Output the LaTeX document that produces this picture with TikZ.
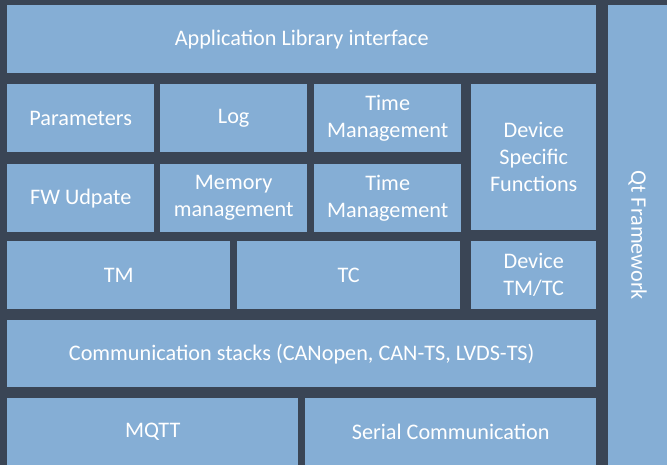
\documentclass[tikz,border=0pt]{standalone}
\usepackage{fontspec}
\setmainfont{Carlito}
\usetikzlibrary{positioning}
\definecolor{slatebg}{HTML}{3A4555}
\definecolor{layerblue}{HTML}{85AED5}

\tikzset{
  layer/.style={fill=layerblue, text=white, align=center, anchor=north west,
    inner sep=0pt, font=\fontsize{22.3}{27}\selectfont},
}

\begin{document}
\begin{tikzpicture}[x=1bp,y=-1bp]
  % background
  \fill[slatebg] (0,0) rectangle (667,465);
  \useasboundingbox (0,0) rectangle (667,465);

  % top layer
  \node[layer, minimum width=589bp, minimum height=68bp] (app) at (7,5) {Application Library interface};

  % services
  \node[layer, minimum width=147bp, minimum height=68bp] (params) at (7,84) {Parameters};
  \node[layer, minimum width=147bp, minimum height=68bp] (log) at (160,84) {Log};
  \node[layer, minimum width=147bp, minimum height=68bp] (timeA) at (314,84) {Time\\Management};
  \node[layer, minimum width=125bp, minimum height=146bp] (devfunc) at (471,84) {Device\\Specific\\Functions};
  \node[layer, minimum width=147bp, minimum height=68bp] (fwup) at (7,164) {FW Udpate};
  \node[layer, minimum width=147bp, minimum height=68bp] (memory) at (160,164) {Memory\\management};
  \node[layer, minimum width=147bp, minimum height=68bp] (timeB) at (314,164) {Time\\Management};

  % TM/TC
  \node[layer, minimum width=223bp, minimum height=68bp] (tm) at (7,241) {TM};
  \node[layer, minimum width=223bp, minimum height=68bp] (tc) at (237,241) {TC};
  \node[layer, minimum width=125bp, minimum height=68bp] (devtmtc) at (471,241) {Device\\TM/TC};

  % communication
  \node[layer, minimum width=589bp, minimum height=67bp] (comm) at (7,320) {Communication stacks (CANopen, CAN-TS, LVDS-TS)};
  \node[layer, minimum width=291bp, minimum height=67bp] (mqtt) at (7,398) {MQTT};
  \node[layer, minimum width=291bp, minimum height=67bp] (serial) at (305,398) {Serial Communication};

  % framework column
  \node[layer, minimum width=59bp, minimum height=460bp] (qt) at (608,5) {};
  \node[rotate=-90, text=white, font=\fontsize{22.3}{27}\selectfont] (qtlabel) at (qt.center) {Qt Framework};
\end{tikzpicture}
\end{document}
